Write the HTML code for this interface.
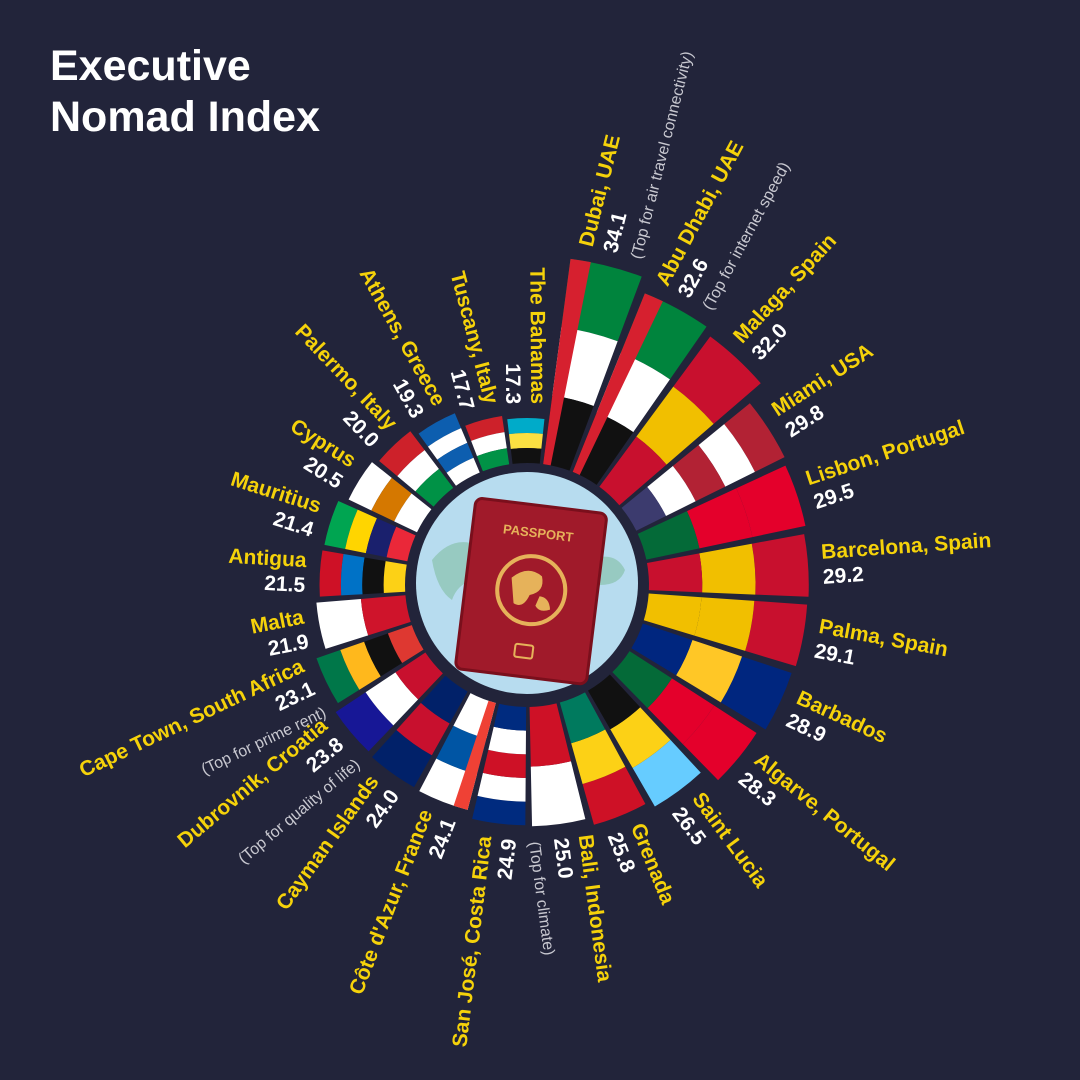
<!DOCTYPE html>
<html><head><meta charset="utf-8">
<style>
html,body{margin:0;padding:0;background:#22243a;}
svg{display:block;font-family:"Liberation Sans",sans-serif;}
</style></head>
<body>
<svg id="chart" width="1080" height="1080" viewBox="0 0 1080 1080" xmlns="http://www.w3.org/2000/svg">
<rect width="1080" height="1080" fill="#22243a"/>
<text x="50" y="80" fill="#fff" font-size="43" font-weight="bold">Executive</text>
<text x="50" y="131" fill="#fff" font-size="43" font-weight="bold">Nomad Index</text>
<g id="bars"></g>
<g id="labels"></g>
<g id="center">
<circle cx="527" cy="583" r="111" fill="#b7dcef"/>
<path d="M432 560 q20 -25 45 -15 q10 15 -5 35 q-15 5 -20 20 q-15 -10 -20 -40z" fill="#8fc6b5" opacity="0.8"/>
<path d="M590 560 q25 -10 35 10 q-5 15 -25 15 q-10 15 -10 30 q-10 -25 0 -55z" fill="#8fc6b5" opacity="0.8"/>
<g transform="rotate(7 530 592)">
<rect x="465" y="505" width="132" height="172" rx="7" fill="#a01a2a"/>
<rect x="465" y="505" width="132" height="172" rx="7" fill="none" stroke="#7a0f1c" stroke-width="3"/>
<text x="531" y="537" fill="#e6b25a" font-size="13" font-weight="bold" text-anchor="middle">PASSPORT</text>
<circle cx="531" cy="590" r="34" fill="none" stroke="#e6b25a" stroke-width="4"/>
<path d="M510 580 q15 -15 30 -5 q5 15 -10 20 q-5 15 -15 10z M540 595 q10 0 12 12 q-10 5 -15 -2z" fill="#e6b25a"/>
<rect x="522" y="645" width="18" height="13" rx="2" fill="none" stroke="#e6b25a" stroke-width="2"/>
</g>
</g>
</svg>
<script>
const names=["Dubai, UAE","Abu Dhabi, UAE","Malaga, Spain","Miami, USA","Lisbon, Portugal","Barcelona, Spain","Palma, Spain","Barbados","Algarve, Portugal","Saint Lucia","Grenada","Bali, Indonesia","San José, Costa Rica","Côte d'Azur, France","Cayman Islands","Dubrovnik, Croatia","Cape Town, South Africa","Malta","Antigua","Mauritius","Cyprus","Palermo, Italy","Athens, Greece","Tuscany, Italy","The Bahamas"];
const values=[34.1,32.6,32.0,29.8,29.5,29.2,29.1,28.9,28.3,26.5,25.8,25.0,24.9,24.1,24.0,23.8,23.1,21.9,21.5,21.4,20.5,20.0,19.3,17.7,17.3];
const notes=["(Top for air travel connectivity)","(Top for internet speed)","","","","","","","","","","(Top for climate)","","","","(Top for quality of life)","(Top for prime rent)","","","","","","","",""];
const flags=[
 {b:["#00843d","#fff","#111"],s:"#d6202f"},{b:["#00843d","#fff","#111"],s:"#d6202f"},
 {b:["#c8102e","#f1bf00","#c8102e"]},{b:["#b22234","#fff","#b22234","#fff","#3c3b6e"]},
 {b:["#e4002b","#e4002b","#046a38"]},{b:["#c8102e","#f1bf00","#c8102e"]},
 {b:["#c8102e","#f1bf00","#f1bf00"]},{b:["#00267f","#ffc726","#00267f"]},
 {b:["#e4002b","#e4002b","#046a38"]},{b:["#66ccff","#fcd116","#111"]},
 {b:["#ce1126","#fcd116","#007a5e"]},{b:["#fff","#ce1126"]},
 {b:["#002b7f","#fff","#ce1126","#fff","#002b7f"]},{b:["#fff","#0055a4","#fff"],s:"#ef4135"},
 {b:["#012169","#c8102e","#012169"]},{b:["#171796","#fff","#c8102e"]},
 {b:["#007749","#ffb81c","#111","#de3831"]},{b:["#fff","#cf142b"]},
 {b:["#ce1126","#0072c6","#111","#fcd116"]},{b:["#00a551","#ffd500","#1a206d","#ea2839"]},
 {b:["#fff","#d57800","#fff"]},{b:["#cd212a","#fff","#009246"]},
 {b:["#0d5eaf","#fff","#0d5eaf","#fff"]},{b:["#cd212a","#fff","#009246"]},
 {b:["#00abc9","#fae042","#111"]}
];
const cx=527, cy=585, r0=122, k=9.65, step=360/values.length, t0=14, gap=1.6;
const NS="http://www.w3.org/2000/svg";
function P(r,a){const t=a*Math.PI/180;return [cx+r*Math.sin(t),cy-r*Math.cos(t)];}
function wedge(r1,r2,a1,a2){const p1=P(r1,a1),p2=P(r2,a1),p3=P(r2,a2),p4=P(r1,a2);
 return `M${p1} L${p2} A${r2} ${r2} 0 0 1 ${p3} L${p4} A${r1} ${r1} 0 0 0 ${p1}Z`;}
const bars=document.getElementById('bars'), labels=document.getElementById('labels');
values.forEach((v,i)=>{
 const th=t0+i*step, a1=th-step/2+gap/2, a2=th+step/2-gap/2, R=v*k;
 const g=document.createElementNS(NS,'g');
 
 
 const f=flags[i], n=f.b.length;
 f.b.forEach((c,j)=>{
  const ro=R-(R-r0)*j/n, ri=R-(R-r0)*(j+1)/n;
  const p=document.createElementNS(NS,'path');
  p.setAttribute('d',wedge(ri,ro,a1,a2));p.setAttribute('fill',c);g.appendChild(p);
 });
 if(f.s){const p=document.createElementNS(NS,'path');
  p.setAttribute('d',wedge(r0,R,a1,a1+(a2-a1)*0.28));p.setAttribute('fill',f.s);g.appendChild(p);}
 bars.appendChild(g);
 // label
 const lines=[{t:names[i],c:"#f5d20a",w:"bold",s:21},{t:v.toFixed(1),c:"#fff",w:"bold",s:21}];
 if(notes[i])lines.push({t:notes[i],c:"#c8c8d0",w:"normal",s:16});
 const right=th<180, rot=right?th-90:th+90, lh=25;
 const pos=P(R+14,th);
 const tx=document.createElementNS(NS,'text');
 
 
 tx.setAttribute('transform',`translate(${pos[0]},${pos[1]}) rotate(${rot})`);
 tx.setAttribute('text-anchor',right?'start':'end');
 const off=-lh*(lines.length-1)/2+7;
 lines.forEach((L,j)=>{
  const ts=document.createElementNS(NS,'tspan');
  ts.setAttribute('x',0);ts.setAttribute('y',off+j*lh);
  ts.setAttribute('fill',L.c);ts.setAttribute('font-weight',L.w);ts.setAttribute('font-size',L.s);
  ts.textContent=L.t;tx.appendChild(ts);
 });
 labels.appendChild(tx);
});
</script>
</body></html>
